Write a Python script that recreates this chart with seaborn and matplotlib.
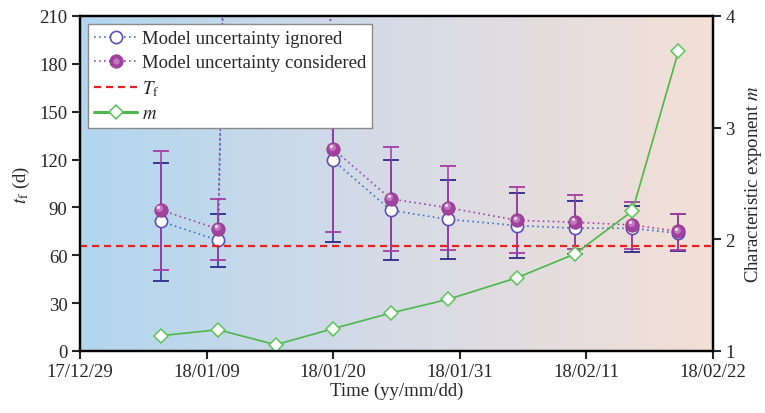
import numpy as np
import pandas as pd
import matplotlib
matplotlib.use("Agg")
import matplotlib.pyplot as plt
import matplotlib.dates as mdates
from matplotlib.colors import LinearSegmentedColormap
from matplotlib.lines import Line2D
from matplotlib.legend_handler import HandlerTuple
from matplotlib.transforms import ScaledTranslation
import seaborn as sns

# ---- data -------------------------------------------------------------
dates = ["2018-01-05", "2018-01-10", "2018-01-15", "2018-01-20", "2018-01-25",
         "2018-01-30", "2018-02-05", "2018-02-10", "2018-02-15", "2018-02-19"]

# predicted failure time t_f (days), model uncertainty ignored
tf_ignored = [81.3, 69.4, 1800.0, 119.5, 88.2, 82.5, 78.6, 77.0, 76.9, 73.8]
tf_ignored_low = [44.1, 52.4, np.nan, 68.1, 56.8, 57.5, 58.1, 60.8, 62.3, 62.9]
tf_ignored_high = [117.6, 85.7, np.nan, 170.9, 119.5, 107.0, 98.8, 93.8, 90.7, 85.7]

# predicted failure time t_f (days), model uncertainty considered
tf_considered = [88.4, 76.5, 1850.0, 126.6, 95.3, 89.8, 81.9, 80.7, 79.0, 75.0]
tf_considered_low = [50.6, 56.8, np.nan, 74.4, 62.5, 63.1, 61.2, 63.8, 63.9, 63.3]
tf_considered_high = [125.6, 95.3, np.nan, 178.8, 128.1, 116.2, 102.6, 97.6, 93.2, 86.1]

# characteristic exponent m
m_values = [1.137, 1.19, 1.056, 1.20, 1.34, 1.463, 1.657, 1.869, 2.254, 3.684]

# actual failure time T_f (days)
T_f = 66

x_ticks = ["2017-12-29", "2018-01-09", "2018-01-20", "2018-01-31", "2018-02-11", "2018-02-22"]
tf_ticks = [0, 30, 60, 90, 120, 150, 180, 210]
m_ticks = [1, 2, 3, 4]

# ---- style ------------------------------------------------------------
FS = 13.5
sns.set_theme(style="ticks")
plt.rcParams["font.family"] = ["Liberation Serif", "DejaVu Serif"]
plt.rcParams["mathtext.fontset"] = "stix"
plt.rcParams.update({
    "font.size": FS, "axes.labelsize": FS, "xtick.labelsize": FS,
    "ytick.labelsize": FS, "legend.fontsize": FS, "axes.linewidth": 1.6,
})

c_ign_line = "#3d72c9"
c_ign_err = "#2e2a8e"
c_ign_edge = "#5a4fb8"
c_con_line = "#9c47a8"
c_con = "#a2429e"
c_con_err = "#a53ca2"
c_red = "#e8231f"
c_green = "#4cb84a"

df = pd.DataFrame({
    "date": pd.to_datetime(dates),
    "ign": tf_ignored, "ign_lo": tf_ignored_low, "ign_hi": tf_ignored_high,
    "con": tf_considered, "con_lo": tf_considered_low, "con_hi": tf_considered_high,
    "m": m_values,
})

fig = plt.figure(figsize=(7.65, 4.14), dpi=100)
ax = fig.add_axes([0.1046, 0.1498, 0.8274, 0.8092])

# background gradient
cmap = LinearSegmentedColormap.from_list("bg", ["#b1d6ef", "#d7dbe6", "#f3e0d6"])
grad = np.linspace(0, 1, 256).reshape(1, -1)
ax.imshow(grad, cmap=cmap, extent=[0, 1, 0, 1], transform=ax.transAxes,
          aspect="auto", zorder=0, interpolation="bicubic")

# connecting lines
sns.lineplot(data=df, x="date", y="ign", ax=ax, color=c_ign_line, linestyle=(0, (1, 2)),
             linewidth=1.2, zorder=2, legend=False)
sns.lineplot(data=df, x="date", y="con", ax=ax, color=c_con_line, linestyle=(0, (1, 2)),
             linewidth=1.2, zorder=2, legend=False)

# error bars
ax.errorbar(df["date"], df["ign"],
            yerr=[df["ign"] - df["ign_lo"], df["ign_hi"] - df["ign"]],
            fmt="none", ecolor=c_ign_err, elinewidth=1.1, capsize=5.5, capthick=1.3, zorder=3)
ax.errorbar(df["date"], df["con"],
            yerr=[df["con"] - df["con_lo"], df["con_hi"] - df["con"]],
            fmt="none", ecolor=c_con_err, elinewidth=1.1, capsize=5.5, capthick=1.3, zorder=3.5)

# markers (shaded spheres for the "considered" series)
ax.plot(df["date"], df["ign"], linestyle="none", marker="o", markersize=8.8,
        markerfacecolor="white", markeredgecolor=c_ign_edge, markeredgewidth=1.2, zorder=4)
ax.plot(df["date"], df["con"], linestyle="none", marker="o", markersize=9.6,
        markerfacecolor=c_con, markeredgecolor="#8e3a8c", markeredgewidth=0.6, zorder=5)
hl1 = ax.transData + ScaledTranslation(-1.0 / 72, 1.2 / 72, fig.dpi_scale_trans)
ax.plot(df["date"], df["con"], linestyle="none", marker="o", markersize=5.0,
        markerfacecolor="#c278bf", markeredgewidth=0, transform=hl1, zorder=5.2)
hl2 = ax.transData + ScaledTranslation(-1.6 / 72, 2.0 / 72, fig.dpi_scale_trans)
ax.plot(df["date"], df["con"], linestyle="none", marker="o", markersize=2.2,
        markerfacecolor="#f1dcef", markeredgewidth=0, transform=hl2, zorder=5.4)

# actual failure time
ax.axhline(T_f, color=c_red, linestyle=(0, (3.2, 2.2)), linewidth=1.6, zorder=6)

ax.set_xlim(pd.Timestamp(x_ticks[0]), pd.Timestamp(x_ticks[-1]))
ax.set_ylim(tf_ticks[0], tf_ticks[-1])
ax.set_xticks(pd.to_datetime(x_ticks))
ax.xaxis.set_major_formatter(mdates.DateFormatter("%y/%m/%d"))
ax.set_yticks(tf_ticks)
ax.set_xlabel("Time (yy/mm/dd)", labelpad=1)
ax.set_ylabel(r"$t_{\rm f}$ (d)", labelpad=5)
ax.tick_params(axis="both", direction="out", length=6, width=1.5, pad=3)

# characteristic exponent on the right axis
ax2 = ax.twinx()
sns.lineplot(data=df, x="date", y="m", ax=ax2, color=c_green, linewidth=1.2,
             marker="D", markersize=7.2, markerfacecolor="white",
             markeredgecolor="#5cc35a", markeredgewidth=1.1, legend=False)
ax2.set_ylim(m_ticks[0], m_ticks[-1])
ax2.set_yticks(m_ticks)
ax2.set_ylabel("Characteristic exponent $m$", labelpad=6)
ax2.tick_params(axis="y", direction="out", length=6, width=1.5, pad=3)
ax2.set_xlim(pd.Timestamp(x_ticks[0]), pd.Timestamp(x_ticks[-1]))
ax2.set_xlabel("")
for a in (ax, ax2):
    for s in a.spines.values():
        s.set_linewidth(1.6)
        s.set_color("black")

# legend
h_ign = Line2D([], [], color=c_ign_line, linestyle=(0, (1, 2)), linewidth=1.2, marker="o",
               markersize=8.8, markerfacecolor="white", markeredgecolor=c_ign_edge,
               markeredgewidth=1.2)
h_con_a = Line2D([], [], color=c_con_line, linestyle=(0, (1, 2)), linewidth=1.2, marker="o",
                 markersize=9.6, markerfacecolor=c_con, markeredgecolor="#8e3a8c",
                 markeredgewidth=0.6)
h_con_b = Line2D([], [], linestyle="none", marker="o", markersize=4.5,
                 markerfacecolor="#c278bf", markeredgewidth=0)
h_tf = Line2D([], [], color=c_red, linestyle=(0, (3.2, 2.2)), linewidth=1.6)
h_m = Line2D([], [], color=c_green, linewidth=2.2, marker="D", markersize=7.2,
             markerfacecolor="white", markeredgecolor="#5cc35a", markeredgewidth=1.1)
leg = ax2.legend([h_ign, (h_con_a, h_con_b), h_tf, h_m],
                 ["Model uncertainty ignored", "Model uncertainty considered",
                  r"$T_{\rm f}$", "$m$"],
                 handler_map={tuple: HandlerTuple(ndivide=1, pad=0)},
                 loc="upper left", bbox_to_anchor=(0.0, 1.0), borderaxespad=0.45,
                 handlelength=2.3, handletextpad=0.25, labelspacing=0.38,
                 borderpad=0.3, fancybox=False, framealpha=1.0, fontsize=FS)
leg.get_frame().set_edgecolor("#8a8a8a")
leg.get_frame().set_linewidth(1.0)
leg.set_zorder(20)

fig.savefig("out.png", dpi=100)
